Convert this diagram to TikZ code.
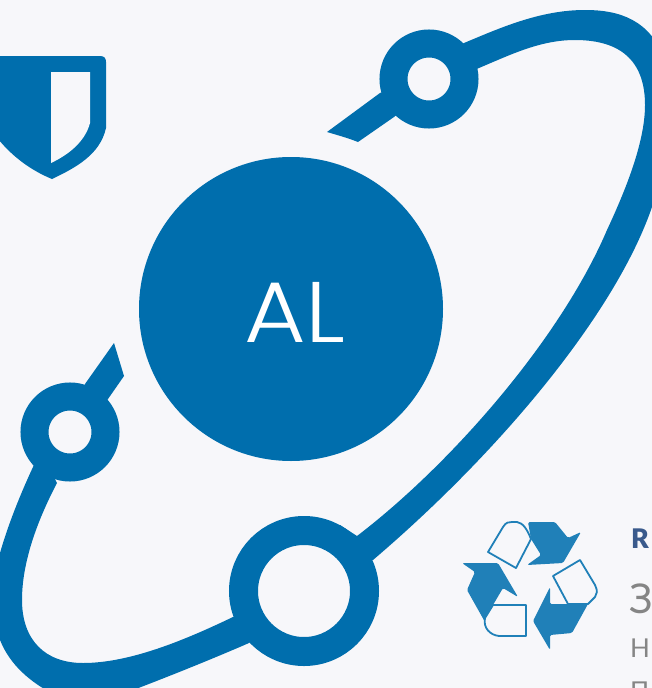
\documentclass[tikz,border=0pt]{standalone}
\usepackage{fontspec}
\setmainfont{Lato}
\newfontfamily\hubfont[FakeStretch=1.1]{Poppins Light}
\newfontfamily\headfont{Lato Black}
\definecolor{logoblue}{HTML}{006EAD}
\definecolor{paper}{HTML}{F7F7FA}
\definecolor{recycleblue}{HTML}{2080B8}
\definecolor{titleblue}{HTML}{3A5A8C}
\definecolor{bodygrey}{HTML}{858585}
\begin{document}
\begin{tikzpicture}
[x=1pt,y=-1pt,
hub/.style={circle,fill=logoblue,text=white,minimum size=304pt,inner sep=0pt},
smallring/.style={circle,draw=logoblue,fill=paper,line width=28pt,minimum size=71pt,inner sep=0pt},
bigring/.style={circle,draw=logoblue,fill=paper,line width=29pt,minimum size=121pt,inner sep=0pt},
band/.style={fill=logoblue},
recyclearrow/.style={fill=recycleblue,rounded corners=1.5pt},
recyclepage/.style={draw=recycleblue,fill=paper,line width=1.8pt,line join=round},
cuttext/.style={anchor=base west,inner sep=0pt}
]
\clip (0,0) rectangle (652,688);
\fill[paper] (0,0) rectangle (652,688);

% shield
\fill[band] (-5,56) -- (100,56) .. controls (104,56) and (106,58) .. (106,62)
 -- (106,128) .. controls (100,155) and (75,168) .. (52,179)
 .. controls (30,170) and (10,155) .. (-5,135) -- cycle;
\fill[paper] (51,72) -- (90,72) -- (90,123) .. controls (85,142) and (68,155) .. (51,163) -- cycle;

% long band, big ring to top ring
\fill[band] (340,525) -- (357,536) .. controls (450,465) and (560,340) .. (607,230)
 .. controls (628,185) and (645,140) .. (645,105)
 .. controls (645,65) and (625,40) .. (575,40)
 .. controls (540,40) and (510,55) .. (479,68)
 -- (450,80) -- (450,50) -- (464,43)
 .. controls (500,28) and (540,10) .. (585,10)
 .. controls (620,10) and (650,20) .. (665,60)
 .. controls (680,110) and (670,170) .. (652,207)
 .. controls (616,312) and (502,450) .. (373,560) -- (350,570) -- cycle;

% short band, left ring to big ring
\fill[band] (40,450) -- (57,483) .. controls (35,525) and (22,565) .. (22,600)
 .. controls (22,640) and (45,663) .. (83,663)
 .. controls (130,663) and (185,640) .. (233,617)
 -- (260,610) -- (260,635) -- (249,643)
 .. controls (210,660) and (160,680) .. (120,695)
 -- (55,695) .. controls (30,682) and (10,665) .. (0,640)
 -- (-10,600) -- (0,553) .. controls (8,525) and (20,495) .. (33,467) -- cycle;

% stubs
\fill[band] (400,85) -- (380,93) -- (327,132) .. controls (337,135) and (348,138) .. (358,142) -- (394,117) -- (415,100) -- cycle;
\fill[band] (80,400) -- (85,384) -- (114,343) -- (124,376) -- (108,399) -- (90,420) -- cycle;

\node[hub] (al) at (291,309) {};
\node[cuttext,text=white,font=\hubfont\fontsize{86}{86}\selectfont] (altext) at (244,342) {AL};
\node[smallring] (topring) at (429,79) {};
\node[smallring] (leftring) at (70,432) {};
\node[bigring] (bottomring) at (304,591) {};

% recycling mark
\fill[recyclearrow] (528,522) -- (555,522) -- (568,538) -- (581,532) -- (563,563) -- (527,565) -- (541,555) -- (531,539) -- cycle;
\draw[recyclepage] (488,552) -- (503,527) .. controls (506,522) and (509,522) .. (512,522) -- (517,522) .. controls (523,523) and (527,529) .. (531,539) -- (516,568) -- cycle;
\fill[recyclearrow] (462,563) -- (498,563) -- (518,597) -- (503,588) -- (493,605) -- (485,622) -- (467,590) -- (475,572) -- cycle;
\draw[recyclepage] (493,605) -- (526,605) -- (526,636) -- (499,636) .. controls (490,635) and (483,628) .. (485,618) -- cycle;
\fill[recyclearrow] (550,587) -- (550,604) -- (588,604) -- (572,633) -- (550,635) -- (550,650) -- (533,621) -- cycle;
\draw[recyclepage] (553,576) -- (580,560) -- (595,585) .. controls (598,591) and (597,594) .. (595,597) -- (588,604) -- (568,604) -- cycle;

\node[cuttext,text=titleblue,font=\headfont\fontsize{27}{27}\selectfont] (heading) at (631,548) {R};
\node[cuttext,text=bodygrey,font=\fontsize{41}{41}\selectfont] (subtitle) at (629,613) {З};
\node[cuttext,text=bodygrey,font=\fontsize{26}{26}\selectfont] (lineone) at (630,657) {Н};
\node[cuttext,text=bodygrey,font=\fontsize{26}{26}\selectfont] (linetwo) at (630,700) {П};
\end{tikzpicture}
\end{document}
